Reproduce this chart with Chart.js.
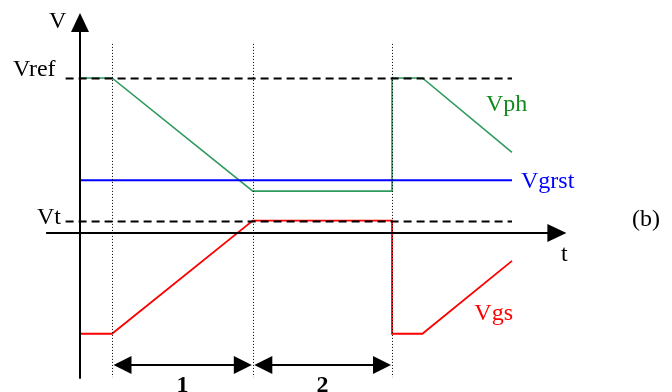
<!DOCTYPE html>
<html>
<head>
<meta charset="utf-8">
<script src="https://cdn.jsdelivr.net/npm/chart.js@4/dist/chart.umd.min.js"></script>
<style>
  html, body { margin: 0; padding: 0; background: #ffffff; }
  #wrap { width: 672px; height: 392px; }
</style>
</head>
<body>
<div id="wrap"><canvas id="c" width="672" height="392"></canvas></div>
<script>
// Switching instants (time units) and voltage levels (V units)
const vphT   = [0, 1.0, 5.4, 9.75, 9.75, 10.7, 13.5];
const vphV   = [5, 5, 1.35, 1.35, 5, 5, 2.6];
const vgsT   = [0, 1.0, 5.4, 9.75, 9.75, 10.7, 13.5];
const vgsV   = [-3.25, -3.25, 0.4, 0.4, -3.25, -3.25, -0.9];
const vgrstT = [0, 13.5];
const vgrstV = [1.7, 1.7];
const vrefLevel = 5;
const vtLevel = 0.4;
const levelSpan = [-0.45, 13.5];
const phaseEdges = [1.0, 5.4, 9.75];
const phaseLabels = ['1', '2'];

const toPts = (ts, vs) => ts.map((t, i) => ({ x: t, y: vs[i] }));

const SERIF = '"Liberation Serif", "DejaVu Serif", serif';

// Axes, guide lines, interval arrows and labels
const diagramPlugin = {
  id: 'diagram',
  afterDatasetsDraw(chart) {
    const ctx = chart.ctx;
    const xs = chart.scales.x, ys = chart.scales.y;
    const X = v => xs.getPixelForValue(v);
    const Y = v => ys.getPixelForValue(v);
    ctx.save();

    // dashed reference levels
    ctx.strokeStyle = '#000';
    ctx.lineWidth = 1.8;
    ctx.setLineDash([8, 5]);
    [vrefLevel, vtLevel].forEach(v => {
      ctx.beginPath();
      ctx.moveTo(X(levelSpan[0]), Math.round(Y(v)) + 0.5);
      ctx.lineTo(X(levelSpan[1]), Math.round(Y(v)) + 0.5);
      ctx.stroke();
    });

    // dotted phase boundaries
    ctx.lineWidth = 1;
    ctx.setLineDash([1, 2]);
    phaseEdges.forEach(t => {
      const px = Math.round(X(t)) + 0.5;
      ctx.beginPath();
      ctx.moveTo(px, Y(6.1));
      ctx.lineTo(px, Y(-4.65));
      ctx.stroke();
    });
    ctx.setLineDash([]);

    // axes
    ctx.lineWidth = 2;
    ctx.fillStyle = '#000';
    const ax0 = X(0), ay0 = Y(0);
    ctx.beginPath();
    ctx.moveTo(ax0, Y(-4.7));
    ctx.lineTo(ax0, Y(6.6));
    ctx.stroke();
    ctx.beginPath();
    ctx.moveTo(ax0, Y(7.1));
    ctx.lineTo(ax0 - 9, Y(7.1) + 19);
    ctx.lineTo(ax0 + 9, Y(7.1) + 19);
    ctx.closePath();
    ctx.fill();

    ctx.beginPath();
    ctx.moveTo(X(-1.06), ay0);
    ctx.lineTo(X(14.7), ay0);
    ctx.stroke();
    ctx.beginPath();
    ctx.moveTo(X(15.2), ay0);
    ctx.lineTo(X(15.2) - 19, ay0 - 9);
    ctx.lineTo(X(15.2) - 19, ay0 + 9);
    ctx.closePath();
    ctx.fill();

    // interval double arrows
    const ay = Y(-4.26);
    ctx.lineWidth = 2;
    for (let i = 0; i < phaseEdges.length - 1; i++) {
      const a = X(phaseEdges[i]) + 1.5, b = X(phaseEdges[i + 1]) - 1;
      ctx.beginPath();
      ctx.moveTo(a + 10, ay);
      ctx.lineTo(b - 10, ay);
      ctx.stroke();
      ctx.beginPath();
      ctx.moveTo(a, ay); ctx.lineTo(a + 18, ay - 9); ctx.lineTo(a + 18, ay + 9); ctx.closePath();
      ctx.fill();
      ctx.beginPath();
      ctx.moveTo(b, ay); ctx.lineTo(b - 18, ay - 9); ctx.lineTo(b - 18, ay + 9); ctx.closePath();
      ctx.fill();
      ctx.font = 'bold 24px ' + SERIF;
      ctx.textAlign = 'center';
      ctx.textBaseline = 'alphabetic';
      ctx.fillText(phaseLabels[i], (X(phaseEdges[i]) + X(phaseEdges[i + 1])) / 2, 392);
    }

    // text labels
    ctx.font = '24px ' + SERIF;
    ctx.textBaseline = 'alphabetic';
    const txt = (s, x, y, color, align) => {
      ctx.fillStyle = color;
      ctx.textAlign = align || 'left';
      ctx.fillText(s, x, y);
    };
    txt('V', 49, 28, '#000');
    txt('Vref', 13, 76, '#000');
    txt('Vt', 37, 224, '#000');
    txt('t', 561, 261, '#000');
    txt('(b)', 632, 226, '#000');
    txt('Vph', 486, 111, '#138a1c');
    txt('Vgrst', 521, 188, '#0000ff');
    txt('Vgs', 513, 320, '#ff0000', 'right');

    ctx.restore();
  }
};

new Chart(document.getElementById('c'), {
  type: 'scatter',
  data: {
    datasets: [
      { label: 'Vgrst', data: toPts(vgrstT, vgrstV), showLine: true, borderColor: '#0000ff', borderWidth: 2, pointRadius: 0 },
      { label: 'Vph', data: toPts(vphT, vphV), showLine: true, borderColor: '#2e9a5e', borderWidth: 1.6, pointRadius: 0 },
      { label: 'Vgs', data: toPts(vgsT, vgsV), showLine: true, borderColor: '#ff0000', borderWidth: 1.8, pointRadius: 0 }
    ]
  },
  options: {
    responsive: false,
    animation: false,
    devicePixelRatio: 1,
    layout: { padding: 0 },
    plugins: { legend: { display: false }, tooltip: { enabled: false } },
    scales: {
      x: { type: 'linear', display: false, min: -2.5, max: 18.5 },
      y: { type: 'linear', display: false, min: -5.129, max: 7.516 }
    }
  },
  plugins: [diagramPlugin]
});
</script>
</body>
</html>
